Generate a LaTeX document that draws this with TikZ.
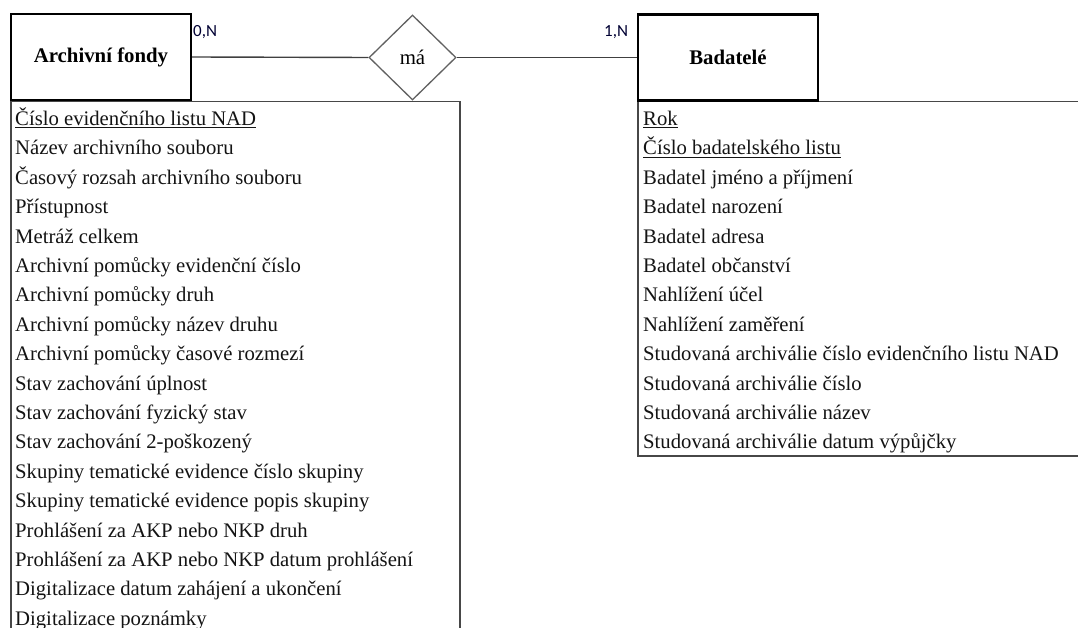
\documentclass[tikz,border=0pt]{standalone}
\usepackage{fontspec}
\setmainfont{Liberation Serif}
\newfontfamily\cardfont{Carlito}
\usetikzlibrary{shapes.geometric}

% key attributes: underline with a slightly heavier rule
\newcommand\keyattr[1]{\setbox0\hbox{#1}\rlap{\rule[-3pt]{\wd0}{1.1pt}}\box0}

\tikzset{
  entity/.style={draw=black, line width=2.4pt, rectangle, inner sep=0pt,
    minimum width=180pt, minimum height=86pt,
    font=\fontsize{20.8}{24}\selectfont\bfseries},
  relation/.style={draw=black!62, line width=1.3pt, diamond, inner sep=0pt,
    minimum width=87pt, minimum height=85pt,
    font=\fontsize{20.8}{24}\selectfont},
  link/.style={draw=black!75, line width=1.4pt},
  attrbox/.style={draw=black!72, line width=1.8pt},
  attr/.style={anchor=base west, inner sep=0pt, text=black!92,
    font=\fontsize{20.7}{24}\selectfont},
  card/.style={anchor=base west, inner sep=0pt, text=black!80!blue,
    font=\cardfont\fontsize{17}{19}\selectfont},
}

\begin{document}
\begin{tikzpicture}[x=1pt, y=-1pt]
  \clip (0,0) rectangle (1078,628);
  \fill[white] (0,0) rectangle (1078,628);

  % attribute lists
  \draw[attrbox] (11,101.5) rectangle (460,660);
  \draw[attrbox] (638,101.5) rectangle (1100,456);

  \foreach \t [count=\i] in {
      {\keyattr{Číslo evidenčního listu NAD}},
      Název archivního souboru,
      Časový rozsah archivního souboru,
      Přístupnost,
      Metráž celkem,
      Archivní pomůcky evidenční číslo,
      Archivní pomůcky druh,
      Archivní pomůcky název druhu,
      Archivní pomůcky časové rozmezí,
      Stav zachování úplnost,
      Stav zachování fyzický stav,
      Stav zachování 2-poškozený,
      Skupiny tematické evidence číslo skupiny,
      Skupiny tematické evidence popis skupiny,
      Prohlášení za AKP nebo NKP druh,
      Prohlášení za AKP nebo NKP datum prohlášení,
      Digitalizace datum zahájení a ukončení,
      Digitalizace poznámky}
    \node[attr] (fa\i) at (15, {125.5+29.4*(\i-1)}) {\t};

  \foreach \t [count=\i] in {
      {\keyattr{Rok}},
      {\keyattr{Číslo badatelského listu}},
      Badatel jméno a příjmení,
      Badatel narození,
      Badatel adresa,
      Badatel občanství,
      Nahlížení účel,
      Nahlížení zaměření,
      Studovaná archiválie číslo evidenčního listu NAD,
      Studovaná archiválie číslo,
      Studovaná archiválie název,
      Studovaná archiválie datum výpůjčky}
    \node[attr] (ba\i) at (643, {125.5+29.4*(\i-1)}) {\t};

  % entities and relationship
  \node[entity, fill=white] (fondy) at (101,57) {Archivní fondy};
  \node[entity, fill=white] (badatele) at (728,57.5) {Badatelé};
  \node[relation, fill=white] (ma) at (412.5,57.5) {má};

  \draw[link] (fondy.east) -- (ma.west);
  \draw[link] (ma.east) -- (badatele.west);

  % cardinalities
  \node[card] (c1) at (193,36.5) {0,N};
  \node[card] (c2) at (604,36.5) {1,N};
\end{tikzpicture}
\end{document}
